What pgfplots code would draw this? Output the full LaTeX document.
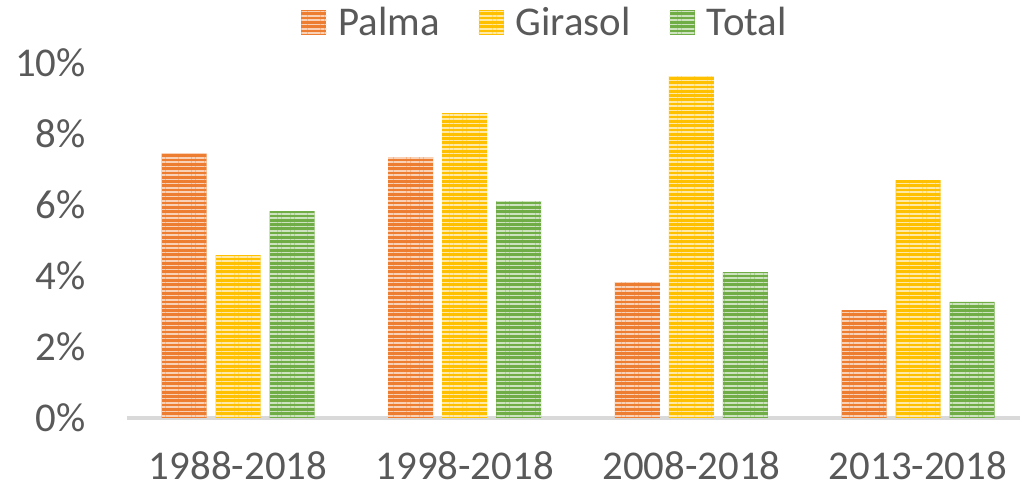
\documentclass[border=0pt]{standalone}
\usepackage{pgfplots}
\pgfplotsset{compat=1.18}
\usepackage{fontspec}
\setmainfont{Carlito}
\usetikzlibrary{patterns.meta}
\definecolor{cO}{HTML}{ED7D31}
\definecolor{cY}{HTML}{FFC000}
\definecolor{cG}{HTML}{70AD47}
\definecolor{txt}{HTML}{595959}
\definecolor{axc}{HTML}{D9D9D9}
\begin{document}
\begin{tikzpicture}
\useasboundingbox (0bp,0bp) rectangle (1029bp,489bp);
\begin{axis}[
  at={(127bp,71bp)}, anchor=south west,
  scale only axis, width=893bp, height=355bp,
  xmin=-0.49, xmax=3.45, ymin=0, ymax=10,
  ybar, bar width=45bp,
  separate axis lines,
  axis x line*=bottom, axis y line*=left,
  x axis line style={axc, line width=3bp, -},
  y axis line style={draw=none},
  major tick length=0pt,
  xtick={0,1,2,3},
  xticklabels={1988-2018,1998-2018,2008-2018,2013-2018},
  ytick={0,2,4,6,8,10},
  yticklabel={\pgfmathprintnumber{\tick}\%},
  /pgf/number format/assume math mode=true,
  ticklabel style={font=\fontsize{41}{49}\selectfont, text=txt, inner sep=0pt},
  yticklabel style={anchor=east, xshift=-41bp},
  xticklabel style={anchor=north, yshift=-33bp},
  legend style={at={(0.467,1.115)}, anchor=center, draw=none, fill=none,
    font=\fontsize{41}{49}\selectfont, text=txt,
    nodes={inner sep=0pt, inner xsep=0pt},
    /tikz/every even column/.append style={column sep=39bp},
    /tikz/every odd column/.append style={column sep=12bp}},
  legend columns=-1,
  legend image code/.code={\draw[#1,draw=none] (0bp,-12.5bp) rectangle (25bp,12.5bp);},
]
\addplot[fill=cO, draw=none, bar shift=-54bp,
  postaction={pattern={Lines[angle=0,distance=4.3bp,line width=1.6bp]}, pattern color=cO!35!white}]
  coordinates {(0,7.45) (1,7.35) (2,3.83) (3,3.04)};
\addplot[fill=cY, draw=none, bar shift=0bp,
  postaction={pattern={Lines[angle=0,distance=4.3bp,line width=1.6bp]}, pattern color=cY!35!white}]
  coordinates {(0,4.59) (1,8.59) (2,9.63) (3,6.70)};
\addplot[fill=cG, draw=none, bar shift=54bp,
  postaction={pattern={Lines[angle=0,distance=4.3bp,line width=1.6bp]}, pattern color=cG!35!white}]
  coordinates {(0,5.83) (1,6.11) (2,4.11) (3,3.27)};
\legend{Palma,Girasol,Total}
\end{axis}
\end{tikzpicture}
\end{document}
